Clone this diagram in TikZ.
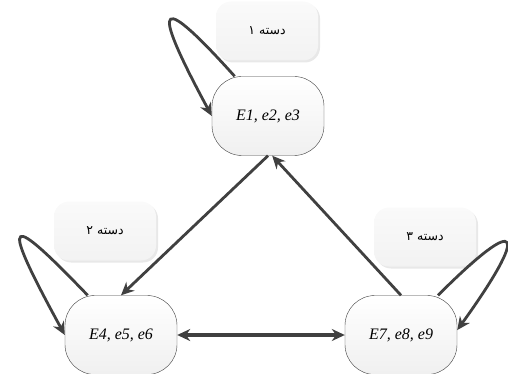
\documentclass[tikz,border=0pt]{standalone}
\usepackage{fontspec}
\setmainfont{Liberation Serif}
\newfontfamily\persianfont[Script=Arabic]{DejaVu Sans}
\TeXXeTstate=1
\usetikzlibrary{arrows.meta, shadows, calc}
\definecolor{linegray}{HTML}{404040}
\tikzstyle{state} = [rectangle, rounded corners=30pt, minimum width=112pt, minimum height=79pt, text centered, draw=linegray, thin, top color=white, bottom color=gray!12, font=\fontsize{16}{18}\selectfont\itshape]
\tikzstyle{setbox} = [rectangle, rounded corners=15pt, minimum width=102pt, minimum height=59pt, text centered, top color=gray!4, bottom color=gray!10, drop shadow={shadow xshift=2pt, shadow yshift=-2pt, opacity=0.18}, font=\persianfont\fontsize{12.5}{14}\selectfont]
\tikzstyle{arrow} = [line width=2.8pt, draw=linegray, -{Stealth[length=13pt, width=12pt]}]
\tikzstyle{twoway} = [line width=4pt, draw=linegray, {Stealth[length=13pt, width=12pt]}-{Stealth[length=13pt, width=12pt]}]

\begin{document}
\begin{tikzpicture}[x=1pt, y=-1pt, node distance=219pt]
\useasboundingbox (0,0) rectangle (508,374);

\node (e1) [state] at (268,116) {E1, e2, e3};
\node (e4) [state, below of=e1, xshift=-147pt] {E4, e5, e6};
\node (e7) [state, right of=e4, xshift=61pt] {E7, e8, e9};

\node (set1) [setbox, above of=e1, node distance=85pt, xshift=-1pt] {\beginR دسته ۱\endR};
\node (set2) [setbox, above of=e4, node distance=104pt, xshift=-16pt] {\beginR دسته ۲\endR};
\node (set3) [setbox, above of=e7, node distance=98pt, xshift=24pt] {\beginR دسته ۳\endR};

% self loops
\draw [arrow] (e1.130) .. controls +(-73,-81) and +(-66,-122) .. (e1.west);
\draw [arrow] (e4.130) .. controls +(-78,-81) and +(-69,-126) .. (e4.west);
\draw [arrow] (e7.47) .. controls +(85,-85) and +(72,-100) .. (e7.5);

\draw [arrow] (e1.south) -- (e4.north);
\draw [arrow] (e7.north) -- (e1.-84);
\draw [twoway] (e4.east) -- (e7.west);

\end{tikzpicture}
\end{document}
